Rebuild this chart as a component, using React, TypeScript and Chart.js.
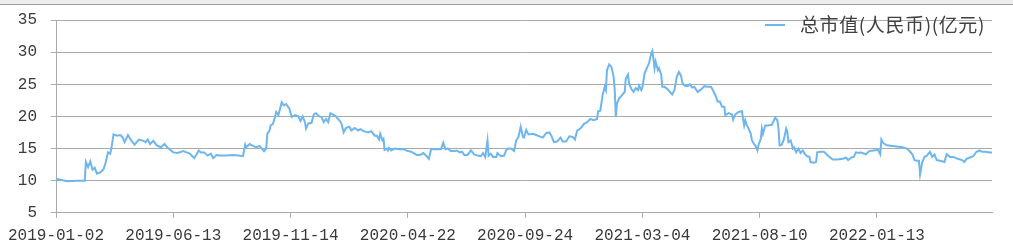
import React, { useEffect, useRef } from 'react';
import { Chart, registerables } from 'chart.js';

Chart.register(...registerables);

const seriesName = '总市值(人民币)(亿元)';
const tickLabels = ['2019-01-02', '2019-06-13', '2019-11-14', '2020-04-22', '2020-09-24', '2021-03-04', '2021-08-10', '2022-01-13'];
const tickStep = 106;
const lastDay = 846;
const yMin = 5;
const yMax = 35;
const yStep = 5;

const dayIndex = [
  0, 5, 10, 19, 26, 27, 29, 31, 33, 35, 37, 40, 43, 45, 47, 49, 50, 52, 55, 58, 60, 62, 65, 68, 71, 75, 79, 81, 83, 85, 88, 91, 95, 98, 101, 106, 110, 115, 118,
  121, 125, 129, 131, 134, 137, 140, 142, 145, 148, 154, 160, 165, 169, 171, 172, 175, 178, 181, 184, 187, 188, 190, 191, 193, 194, 196, 198, 199, 201, 203, 204, 206, 208, 211, 213, 216, 219, 221, 223, 225, 226, 228, 231, 233, 235, 238, 240,
  242, 244, 246, 248, 250, 253, 256, 258, 260, 262, 265, 267, 270, 273, 275, 278, 282, 285, 288, 290, 292, 293, 295, 296, 297, 299, 300, 301, 303, 306, 310, 314, 318, 321, 326, 329, 332, 335, 337, 339, 344, 348, 350, 352, 354, 357, 360,
  362, 365, 367, 369, 372, 375, 378, 381, 384, 386, 388, 390, 391, 393, 395, 398, 399, 402, 405, 407, 409, 411, 414, 416, 418, 420, 422, 423, 425, 427, 431, 434, 437, 440, 443, 446, 448, 450, 453, 456, 458, 461, 464, 467, 469, 471, 473, 475, 477, 480, 483,
  486, 489, 490, 492, 494, 496, 497, 498, 500, 502, 504, 505, 506, 507, 509, 512, 514, 515, 517, 518, 520, 522, 524, 526, 527, 529, 530, 532, 534, 536, 538, 539, 540, 541, 542, 544, 545, 547, 548, 550, 553, 555, 557, 559, 561, 563, 565, 566, 568, 571, 573, 575, 577, 580, 583, 586, 589, 592, 594, 596, 598, 600, 602, 604, 605,
  608, 611, 612, 614, 617, 620, 621, 622, 623, 624, 626, 628, 629, 631, 632, 634, 635, 637, 638, 639, 641, 643, 647, 650, 652, 653, 654, 656, 658, 660, 661, 662, 664, 666, 667, 669, 671, 673, 675, 677, 679, 681, 682, 685, 687, 688, 691, 694, 696, 699, 702, 706, 711, 714, 716, 719, 721, 723, 726,
  727, 732, 735, 739, 743, 745, 746, 748, 751, 756, 760, 765, 769, 772, 774, 776, 778, 780, 781, 783, 785, 787, 790, 792, 794, 796, 799, 803, 805, 808, 811, 815, 819, 821, 823, 826, 829, 832, 835, 837, 840, 844, 846,
];

const marketCap = [
  10.3, 10.1, 9.9, 10.0, 10.0, 12.9, 12.1, 13.0, 11.7, 12.0, 11.1, 11.3, 11.8, 12.9, 14.4, 14.2, 15.0, 17.2, 17.0, 17.1, 16.8, 16.0, 17.1, 16.25, 15.6, 16.4, 16.2, 16.0, 16.4, 15.7, 16.2, 15.5, 15.2, 15.7, 15.1, 14.4, 14.3, 14.6, 14.4,
  14.2, 13.5, 14.7, 14.4, 14.4, 13.9, 14.2, 13.5, 14.0, 13.9, 13.9, 14.0, 13.9, 13.8, 15.6, 15.2, 15.7, 15.4, 15.2, 15.4, 14.8, 14.6, 15.0, 17.3, 17.8, 18.6, 18.8, 19.9, 20.7, 20.2, 21.5, 22.2, 21.7, 21.9, 21.2, 19.9, 20.2, 20.0, 19.3, 20.0, 19.1, 18.1, 18.9, 19.0, 20.3, 20.5, 20.0, 19.9,
  19.1, 19.6, 19.1, 20.5, 20.3, 20.0, 19.4, 18.9, 17.5, 18.2, 18.4, 17.8, 18.2, 17.8, 18.0, 17.7, 17.5, 17.7, 17.0, 17.0, 16.4, 17.3, 16.3, 16.5, 14.8, 15.0, 14.7, 15.1, 14.7, 15.0, 14.9, 14.9, 14.6, 14.5, 14.0, 14.0, 14.3, 13.8, 13.4, 14.9, 14.9, 14.9, 15.9, 14.9, 15.0, 14.6, 14.6,
  14.7, 14.4, 14.5, 14.0, 14.0, 14.7, 14.1, 13.9, 13.8, 14.3, 13.7, 16.25, 13.9, 14.2, 13.7, 13.7, 14.3, 13.8, 13.9, 14.8, 15.0, 15.0, 14.6, 16.25, 16.8, 18.4, 16.8, 16.7, 17.9, 17.2, 17.3, 17.1, 16.9, 16.7, 17.4, 17.5, 16.9, 16.0, 16.1, 16.7, 16.1, 16.1, 16.9, 16.8, 16.4, 17.8, 18.0, 18.3, 18.8, 19.1, 19.6,
  19.4, 19.6, 20.8, 20.9, 23.3, 24.6, 24.1, 27.2, 28.1, 27.7, 26.2, 24.1, 20.0, 22.0, 22.8, 23.4, 23.8, 25.9, 26.5, 25.1, 24.3, 23.8, 24.4, 24.1, 24.8, 24.1, 24.5, 26.7, 27.5, 28.3, 29.8, 30.2, 29.0, 27.5, 28.5, 27.2, 27.5, 26.5, 24.6, 24.6, 24.2, 23.8, 23.4, 24.1, 26.1, 26.9, 26.3, 25.3, 24.8, 24.7, 25.0, 24.5, 24.6, 23.8, 24.2, 24.7, 24.6, 24.6, 24.0, 23.3, 22.3, 22.3, 21.5, 21.5, 20.2,
  20.5, 20.3, 19.5, 20.3, 20.7, 20.8, 19.6, 18.6, 19.4, 18.8, 18.1, 17.3, 16.25, 15.7, 15.5, 14.7, 15.6, 16.5, 18.1, 17.3, 18.6, 18.6, 18.7, 19.8, 19.4, 18.1, 15.5, 15.6, 16.5, 18.1, 17.6, 16.0, 16.25, 15.0, 15.2, 14.4, 15.0, 14.3, 14.7, 14.1, 13.8, 13.7, 12.9, 12.8, 12.9, 14.4, 14.5, 14.5, 14.2, 13.7, 13.3, 13.3, 13.4, 13.6, 13.2, 13.6, 13.7, 14.4, 14.3,
  14.4, 14.1, 14.6, 14.7, 14.8, 14.1, 16.4, 15.8, 15.5, 15.4, 15.3, 15.2, 15.0, 14.5, 14.1, 13.2, 13.1, 13.1, 11.0, 12.9, 13.7, 13.9, 14.5, 13.7, 14.1, 13.2, 13.1, 12.9, 14.1, 13.7, 13.7, 13.4, 13.2, 12.9, 13.4, 13.6, 13.8, 14.5, 14.7, 14.5, 14.5, 14.4, 14.4,
];

const lineColor = '#6db6ee';
const gridColor = '#aaaaaa';
const textColor = '#3a3a3a';
const tickFont = { family: '"Liberation Mono", monospace', size: 16 };
const legendTextWidth = 185;

const legendPlugin = {
  id: 'topRightLegend',
  afterDraw(chart: any) {
    const ctx = chart.ctx as CanvasRenderingContext2D;
    const area = chart.chartArea;
    ctx.save();
    ctx.font = '19px "Noto Sans CJK SC", sans-serif';
    const natural = ctx.measureText(seriesName).width;
    const extra = Math.max(0, (legendTextWidth - natural) / seriesName.length);
    (ctx as any).letterSpacing = extra.toFixed(2) + 'px';
    const textX = area.right - 7 - legendTextWidth;
    const y = area.top + 5;
    ctx.strokeStyle = lineColor;
    ctx.lineWidth = 2;
    ctx.beginPath();
    ctx.moveTo(textX - 35, y);
    ctx.lineTo(textX - 15, y);
    ctx.stroke();
    ctx.fillStyle = '#404040';
    ctx.textBaseline = 'middle';
    ctx.textAlign = 'left';
    ctx.fillText(seriesName, textX, y);
    ctx.restore();
  },
};

export default function App() {
  const canvasRef = useRef<HTMLCanvasElement | null>(null);

  useEffect(() => {
    const canvas = canvasRef.current;
    if (!canvas) return;
    const points = dayIndex.map((d, k) => ({ x: d, y: marketCap[k] }));
    const chart = new Chart(canvas, {
      type: 'line',
      data: {
        datasets: [
          {
            label: seriesName,
            data: points,
            borderColor: lineColor,
            backgroundColor: lineColor,
            borderWidth: 2,
            pointRadius: 0,
            tension: 0,
            fill: false,
          },
        ],
      },
      options: {
        responsive: false,
        animation: false,
        layout: { padding: { left: 3, right: 21, top: 20, bottom: -1 } },
        plugins: {
          legend: { display: false },
          tooltip: { enabled: false },
        },
        scales: {
          x: {
            type: 'linear',
            min: 0,
            max: lastDay,
            bounds: 'data',
            afterBuildTicks: (scale: any) => {
              scale.ticks = tickLabels.map((_, k) => ({ value: k * tickStep }));
            },
            ticks: {
              autoSkip: false,
              maxRotation: 0,
              padding: 8,
              color: textColor,
              font: tickFont,
              callback: (value: any) => tickLabels[Math.round(Number(value) / tickStep)] ?? '',
            },
            grid: { drawOnChartArea: false, drawTicks: true, tickLength: 5, color: gridColor },
            border: { display: true, color: gridColor },
          },
          y: {
            min: yMin,
            max: yMax,
            afterFit: (scale: any) => {
              scale.paddingTop = 10;
              scale.paddingBottom = 10;
            },
            ticks: { stepSize: yStep, padding: 14, color: textColor, font: tickFont },
            grid: { color: gridColor, tickLength: 5, drawTicks: true },
            border: { display: true, color: gridColor },
          },
        },
      },
      plugins: [legendPlugin],
    });
    return () => chart.destroy();
  }, []);

  return (
    <div style={{ position: 'fixed', left: 0, top: 0, width: 1013, height: 252, background: '#ffffff', overflow: 'hidden' }}>
      <canvas ref={canvasRef} width={1013} height={252} style={{ display: 'block', width: 1013, height: 252 }} />
      <div style={{ position: 'absolute', left: 0, top: 0, width: 1013, height: 4, background: '#eeeeee', borderBottom: '1px solid #a0a0a0' }} />
    </div>
  );
}
